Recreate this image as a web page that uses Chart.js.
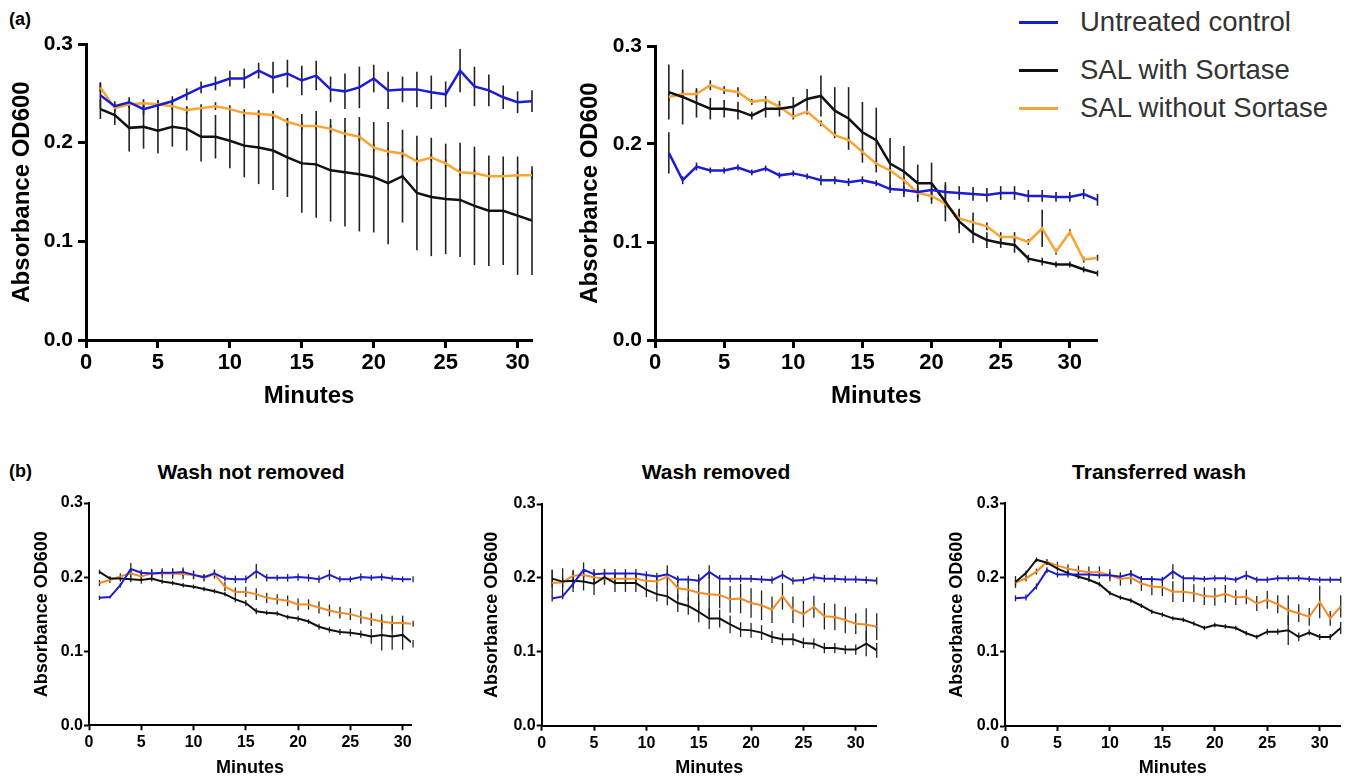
<!DOCTYPE html>
<html lang="en">

<head>
    <meta charset="UTF-8">
    <title>Absorbance OD600 over time</title>
    <script src="https://cdn.jsdelivr.net/npm/chart.js"></script>
    <style>
        body { margin: 0; width: 1352px; height: 780px; background: #fff; position: relative; overflow: hidden; font-family: 'Liberation Sans', Arial, sans-serif; }
        canvas { position: absolute; }
        .lbl { position: absolute; font-weight: bold; color: #000; line-height: 1; white-space: nowrap; }
        .ptitle { position: absolute; font-weight: bold; font-size: 21px; line-height: 1; transform: translate(-50%, -50%); white-space: nowrap; }
        .leg { position: absolute; left: 1019px; width: 1300px; }
        .leg span.sw { position: absolute; left: 0; width: 39px; height: 3px; }
        .leg span.tx { position: absolute; left: 61px; font-size: 27.5px; line-height: 1; color: #333; transform: translateY(-50%); white-space: nowrap; }
    </style>
</head>

<body>
    <div class="lbl" style="left:9px; top:10px; font-size:18px;">(a)</div>
    <div class="lbl" style="left:9px; top:462px; font-size:18px;">(b)</div>

    <div class="leg" style="top:22px;"><span class="sw" style="background:#1c1cd6; top:-1px;"></span><span class="tx">Untreated control</span></div>
    <div class="leg" style="top:70px;"><span class="sw" style="background:#111; top:-1px;"></span><span class="tx">SAL with Sortase</span></div>
    <div class="leg" style="top:108px;"><span class="sw" style="background:#f9a533; top:-1px;"></span><span class="tx">SAL without Sortase</span></div>

    <div class="ptitle" style="left:251px; top:471px;">Wash not removed</div>
    <div class="ptitle" style="left:716px; top:471px;">Wash removed</div>
    <div class="ptitle" style="left:1159px; top:471px;">Transferred wash</div>

    <canvas id="a1" width="545" height="420" style="left:0px; top:0px;"></canvas>
    <canvas id="a2" width="545" height="420" style="left:560px; top:0px;"></canvas>
    <canvas id="b1" width="430" height="290" style="left:0px; top:490px;"></canvas>
    <canvas id="b2" width="440" height="290" style="left:450px; top:490px;"></canvas>
    <canvas id="b3" width="452" height="290" style="left:900px; top:490px;"></canvas>

    <script>
        // minutes
        const minutes31 = [1,2,3,4,5,6,7,8,9,10,11,12,13,14,15,16,17,18,19,20,21,22,23,24,25,26,27,28,29,30,31];
        const minutes32 = [1,2,3,4,5,6,7,8,9,10,11,12,13,14,15,16,17,18,19,20,21,22,23,24,25,26,27,28,29,30,31,32];
        const xTicks = [0, 5, 10, 15, 20, 25, 30];
        const yTicks = [0, 0.1, 0.2, 0.3];
        const seriesNames = ['Untreated control', 'SAL with Sortase', 'SAL without Sortase'];

        // (a) left
        const blueA1 = [0.248,0.237,0.241,0.234,0.238,0.242,0.249,0.256,0.260,0.265,0.265,0.273,0.266,0.270,0.263,0.268,0.254,0.252,0.256,0.265,0.253,0.254,0.254,0.251,0.249,0.273,0.257,0.253,0.246,0.241,0.242];
        const blueErrA1 = [0.013,0.005,0.005,0.006,0.005,0.005,0.006,0.006,0.007,0.008,0.010,0.008,0.016,0.014,0.015,0.015,0.013,0.018,0.021,0.014,0.019,0.013,0.018,0.017,0.013,0.022,0.020,0.016,0.012,0.011,0.011];
        const blackA1 = [0.234,0.228,0.215,0.216,0.212,0.216,0.214,0.206,0.206,0.202,0.197,0.195,0.192,0.185,0.179,0.178,0.172,0.170,0.168,0.165,0.159,0.166,0.149,0.145,0.143,0.142,0.136,0.131,0.131,0.126,0.121];
        const blackErrA1 = [0.010,0.010,0.024,0.022,0.023,0.020,0.022,0.025,0.022,0.028,0.032,0.037,0.040,0.040,0.050,0.054,0.052,0.055,0.058,0.056,0.062,0.047,0.058,0.060,0.056,0.058,0.060,0.056,0.055,0.060,0.055];
        const orangeA1 = [0.256,0.235,0.239,0.240,0.239,0.237,0.233,0.235,0.237,0.234,0.230,0.229,0.228,0.221,0.217,0.217,0.214,0.209,0.206,0.195,0.191,0.189,0.181,0.185,0.179,0.170,0.169,0.166,0.166,0.167,0.167];
        const orangeErrA1 = [0.005,0.004,0.004,0.004,0.004,0.004,0.004,0.004,0.004,0.004,0.004,0.004,0.004,0.004,0.004,0.004,0.004,0.004,0.004,0.004,0.004,0.004,0.004,0.004,0.004,0.004,0.004,0.004,0.004,0.004,0.004];

        // (a) right
        const blueA2 = [0.191,0.163,0.177,0.173,0.173,0.176,0.171,0.175,0.168,0.170,0.167,0.163,0.163,0.161,0.163,0.160,0.154,0.153,0.151,0.153,0.151,0.150,0.149,0.148,0.150,0.150,0.147,0.147,0.146,0.146,0.149,0.143];
        const blueErrA2 = [0.021,0.004,0.004,0.003,0.003,0.003,0.003,0.003,0.003,0.003,0.003,0.005,0.004,0.004,0.004,0.003,0.004,0.004,0.006,0.006,0.007,0.007,0.007,0.007,0.007,0.007,0.006,0.006,0.005,0.005,0.005,0.006];
        const blackA2 = [0.253,0.248,0.242,0.236,0.236,0.234,0.229,0.236,0.236,0.238,0.246,0.249,0.234,0.226,0.212,0.204,0.180,0.172,0.160,0.160,0.141,0.121,0.109,0.102,0.099,0.097,0.083,0.080,0.077,0.077,0.072,0.068];
        const blackErrA2 = [0.028,0.028,0.015,0.011,0.009,0.009,0.004,0.009,0.008,0.010,0.010,0.021,0.024,0.032,0.031,0.033,0.026,0.026,0.019,0.021,0.020,0.012,0.010,0.008,0.005,0.008,0.004,0.004,0.003,0.003,0.003,0.003];
        const orangeA2 = [0.248,0.251,0.251,0.260,0.255,0.253,0.243,0.245,0.238,0.228,0.233,0.221,0.209,0.204,0.192,0.180,0.173,0.163,0.150,0.147,0.139,0.124,0.120,0.116,0.105,0.105,0.100,0.114,0.090,0.110,0.082,0.084];
        const orangeErrA2 = [0.004,0.004,0.004,0.005,0.004,0.005,0.003,0.004,0.003,0.003,0.003,0.003,0.003,0.003,0.003,0.003,0.003,0.003,0.004,0.004,0.004,0.010,0.010,0.004,0.005,0.005,0.003,0.019,0.003,0.003,0.003,0.003];

        // (b) wash not removed
        const blueB1 = [0.172,0.173,0.189,0.211,0.206,0.205,0.206,0.206,0.207,0.203,0.200,0.205,0.198,0.197,0.197,0.208,0.199,0.199,0.199,0.200,0.199,0.197,0.203,0.197,0.197,0.200,0.199,0.200,0.198,0.197,0.197];
        const blueErrB1 = [0.003,0.002,0.003,0.008,0.004,0.004,0.004,0.005,0.006,0.005,0.004,0.005,0.004,0.005,0.005,0.010,0.005,0.004,0.005,0.005,0.005,0.005,0.007,0.004,0.004,0.005,0.004,0.005,0.004,0.004,0.004];
        const blackB1 = [0.207,0.198,0.198,0.197,0.196,0.198,0.194,0.192,0.189,0.187,0.184,0.181,0.177,0.170,0.165,0.154,0.152,0.151,0.146,0.144,0.140,0.133,0.129,0.126,0.125,0.123,0.120,0.122,0.120,0.122,0.110];
        const blackErrB1 = [0.003,0.003,0.004,0.004,0.005,0.004,0.003,0.003,0.003,0.003,0.003,0.003,0.003,0.004,0.004,0.004,0.003,0.003,0.003,0.004,0.003,0.004,0.004,0.004,0.005,0.005,0.010,0.021,0.018,0.020,0.005];
        const orangeB1 = [0.192,0.196,0.201,0.205,0.201,0.205,0.205,0.205,0.204,0.203,0.199,0.204,0.187,0.180,0.180,0.177,0.172,0.170,0.168,0.163,0.163,0.159,0.155,0.152,0.150,0.146,0.143,0.140,0.138,0.138,0.137];
        const orangeErrB1 = [0.004,0.004,0.004,0.005,0.006,0.006,0.007,0.007,0.007,0.006,0.005,0.006,0.006,0.006,0.007,0.008,0.007,0.007,0.007,0.008,0.007,0.008,0.008,0.008,0.008,0.009,0.009,0.010,0.010,0.010,0.004];

        // (b) wash removed
        const blueB2 = [0.172,0.175,0.192,0.211,0.205,0.206,0.206,0.206,0.206,0.204,0.202,0.205,0.198,0.198,0.196,0.208,0.199,0.199,0.199,0.199,0.198,0.197,0.204,0.196,0.197,0.201,0.199,0.199,0.198,0.198,0.197,0.196];
        const blueErrB2 = [0.004,0.004,0.005,0.010,0.007,0.006,0.006,0.006,0.006,0.005,0.005,0.006,0.005,0.005,0.005,0.009,0.005,0.005,0.005,0.005,0.005,0.005,0.006,0.005,0.005,0.005,0.005,0.005,0.005,0.005,0.005,0.005];
        const blackB2 = [0.199,0.195,0.196,0.195,0.192,0.201,0.193,0.193,0.193,0.184,0.178,0.175,0.166,0.162,0.154,0.145,0.145,0.137,0.130,0.129,0.126,0.120,0.117,0.117,0.112,0.111,0.105,0.105,0.103,0.103,0.111,0.102];
        const blackErrB2 = [0.012,0.018,0.015,0.012,0.015,0.010,0.012,0.012,0.012,0.010,0.010,0.012,0.012,0.012,0.014,0.014,0.012,0.012,0.010,0.010,0.010,0.008,0.008,0.008,0.007,0.007,0.007,0.007,0.006,0.007,0.017,0.010];
        const orangeB2 = [0.193,0.194,0.203,0.204,0.201,0.199,0.199,0.199,0.199,0.196,0.195,0.202,0.186,0.184,0.180,0.178,0.177,0.171,0.172,0.166,0.163,0.157,0.175,0.157,0.151,0.161,0.148,0.147,0.143,0.138,0.137,0.134];
        const orangeErrB2 = [0.018,0.006,0.006,0.006,0.008,0.008,0.008,0.008,0.008,0.008,0.008,0.015,0.015,0.015,0.025,0.030,0.018,0.018,0.020,0.020,0.020,0.018,0.018,0.018,0.018,0.015,0.018,0.018,0.018,0.014,0.022,0.018];

        // (b) transferred wash
        const blueB3 = [0.172,0.173,0.188,0.210,0.204,0.204,0.204,0.204,0.203,0.203,0.201,0.205,0.198,0.198,0.197,0.208,0.199,0.199,0.198,0.199,0.199,0.197,0.203,0.197,0.197,0.199,0.199,0.199,0.198,0.197,0.197,0.197];
        const blueErrB3 = [0.004,0.004,0.004,0.004,0.004,0.004,0.004,0.004,0.004,0.004,0.004,0.005,0.004,0.004,0.004,0.010,0.004,0.004,0.004,0.004,0.004,0.004,0.006,0.004,0.004,0.004,0.004,0.004,0.004,0.004,0.004,0.004];
        const blackB3 = [0.194,0.206,0.224,0.220,0.212,0.206,0.201,0.197,0.191,0.179,0.173,0.169,0.162,0.154,0.150,0.145,0.143,0.138,0.132,0.136,0.134,0.132,0.125,0.120,0.127,0.127,0.129,0.120,0.126,0.120,0.120,0.132];
        const blackErrB3 = [0.008,0.003,0.003,0.003,0.003,0.003,0.003,0.003,0.003,0.003,0.003,0.003,0.003,0.003,0.003,0.003,0.003,0.003,0.003,0.003,0.003,0.003,0.003,0.003,0.004,0.004,0.020,0.006,0.004,0.004,0.004,0.008];
        const orangeB3 = [0.193,0.199,0.208,0.221,0.216,0.212,0.209,0.207,0.207,0.203,0.198,0.200,0.192,0.188,0.187,0.181,0.181,0.179,0.175,0.174,0.178,0.173,0.174,0.165,0.170,0.164,0.156,0.152,0.147,0.167,0.145,0.161];
        const orangeErrB3 = [0.004,0.004,0.004,0.004,0.005,0.006,0.007,0.008,0.008,0.008,0.009,0.009,0.010,0.012,0.012,0.014,0.014,0.012,0.012,0.012,0.012,0.010,0.010,0.010,0.012,0.012,0.020,0.012,0.012,0.022,0.010,0.015];

        const FONT = "'Liberation Sans', Arial, sans-serif";

        // vertical error bars, no caps, drawn under the lines
        const errorBars = {
            id: 'errorBars',
            beforeDatasetsDraw(chart, args, opts) {
                const { ctx, scales: { x, y } } = chart;
                ctx.save();
                ctx.strokeStyle = opts.color;
                ctx.lineWidth = opts.width;
                chart.data.datasets.forEach(ds => {
                    (ds.errors || []).forEach((e, i) => {
                        const p = ds.data[i];
                        if (!e || !p) return;
                        const px = x.getPixelForValue(p.x);
                        ctx.beginPath();
                        ctx.moveTo(px, y.getPixelForValue(p.y - e));
                        ctx.lineTo(px, y.getPixelForValue(p.y + e));
                        ctx.stroke();
                    });
                });
                ctx.restore();
            }
        };

        function toPoints(xs, ys) {
            return ys.map((v, i) => ({ x: xs[i], y: v }));
        }

        function makePanel(id, xs, series, g) {
            const colors = ['#1c1cd6', '#111111', g.orange];
            const datasets = series.map((s, i) => ({
                label: seriesNames[i],
                data: toPoints(xs, s.values),
                errors: s.errors,
                borderColor: colors[i],
                borderWidth: g.lineW,
                pointRadius: 0,
                tension: 0,
                fill: false
            }));

            new Chart(document.getElementById(id), {
                type: 'line',
                data: { datasets: datasets },
                plugins: [errorBars],
                options: {
                    responsive: false,
                    animation: false,
                    layout: { padding: { left: 0, top: g.pt, right: g.pr, bottom: 0 } },
                    plugins: {
                        legend: { display: false },
                        tooltip: { enabled: false },
                        errorBars: { color: '#222', width: g.errW }
                    },
                    scales: {
                        x: {
                            type: 'linear',
                            min: 0,
                            max: g.xMax,
                            border: { color: '#000', width: g.axisW },
                            grid: { drawOnChartArea: false, drawTicks: true, tickLength: g.tl, tickColor: '#000', tickWidth: g.axisW },
                            afterBuildTicks: s => { s.ticks = xTicks.map(v => ({ value: v })); },
                            afterFit: s => { s.height = g.hx; },
                            ticks: { color: '#000', padding: g.xPad, maxRotation: 0, autoSkip: false, font: { family: FONT, size: g.xTickSize, weight: 'bold' } },
                            title: { display: true, text: 'Minutes', color: '#000', padding: { top: 0, bottom: g.xTitlePad }, font: { family: FONT, size: g.titleSize, weight: 'bold' } }
                        },
                        y: {
                            min: 0,
                            max: 0.3,
                            border: { color: '#000', width: g.axisW },
                            grid: { drawOnChartArea: false, drawTicks: true, tickLength: g.tl, tickColor: '#000', tickWidth: g.axisW },
                            afterBuildTicks: s => { s.ticks = yTicks.map(v => ({ value: v })); },
                            afterFit: s => { s.width = g.wy; },
                            ticks: { color: '#000', padding: g.yPad, callback: v => v.toFixed(1), font: { family: FONT, size: g.yTickSize, weight: 'bold' } },
                            title: { display: true, text: 'Absorbance OD600', color: '#000', padding: { top: g.yTitlePad, bottom: 0 }, font: { family: FONT, size: g.titleSize, weight: 'bold' } }
                        }
                    }
                }
            });
        }

        const bigPanel = { orange: '#f9a533', lineW: 2.5, errW: 1.6, axisW: 3, tl: 8, xPad: 2, yPad: 5, xTickSize: 22, yTickSize: 21, titleSize: 24, hx: 80, xTitlePad: 9.6 };
        const smallPanel = { orange: '#f58b22', lineW: 2, errW: 1.3, axisW: 2, tl: 5, xPad: 3, yPad: 1, xTickSize: 16, yTickSize: 16, titleSize: 18, xTitlePad: 1.2 };

        makePanel('a1', minutes31, [
            { values: blueA1, errors: blueErrA1 },
            { values: blackA1, errors: blackErrA1 },
            { values: orangeA1, errors: orangeErrA1 }
        ], Object.assign({}, bigPanel, { xMax: 31, wy: 86, pt: 44, pr: 13, yTitlePad: 7.6 }));

        makePanel('a2', minutes32, [
            { values: blueA2, errors: blueErrA2 },
            { values: blackA2, errors: blackErrA2 },
            { values: orangeA2, errors: orangeErrA2 }
        ], Object.assign({}, bigPanel, { xMax: 32, wy: 95, pt: 46, pr: 7.5, yTitlePad: 15.6 }));

        makePanel('b1', minutes31, [
            { values: blueB1, errors: blueErrB1 },
            { values: blackB1, errors: blackErrB1 },
            { values: orangeB1, errors: orangeErrB1 }
        ], Object.assign({}, smallPanel, { xMax: 30.8, wy: 89, pt: 13, pr: 19, hx: 54.7, yTitlePad: 31.2 }));

        makePanel('b2', minutes32, [
            { values: blueB2, errors: blueErrB2 },
            { values: blackB2, errors: blackErrB2 },
            { values: orangeB2, errors: orangeErrB2 }
        ], Object.assign({}, smallPanel, { xMax: 32, wy: 91.7, pt: 14, pr: 13.3, hx: 54.3, yTitlePad: 31.7 }));

        makePanel('b3', minutes32, [
            { values: blueB3, errors: blueErrB3 },
            { values: blackB3, errors: blackErrB3 },
            { values: orangeB3, errors: orangeErrB3 }
        ], Object.assign({}, smallPanel, { xMax: 32, wy: 105, pt: 13.3, pr: 11.3, hx: 54, yTitlePad: 46.7 }));
    </script>
</body>

</html>
